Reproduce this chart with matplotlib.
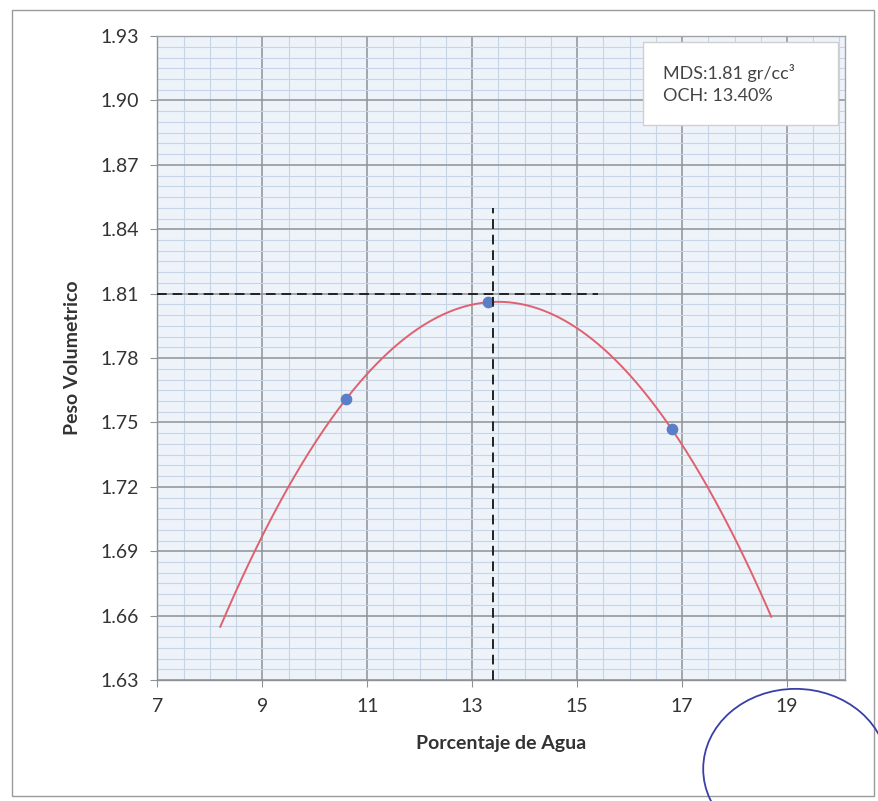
import matplotlib
matplotlib.use("Agg")
import matplotlib.pyplot as plt
import numpy as np
from matplotlib.patches import Ellipse, Rectangle

plt.rcParams['font.family'] = ['Lato', 'DejaVu Sans']

# Data
humedad = [10.6, 13.3, 16.8]          # Porcentaje de Agua
peso = [1.761, 1.806, 1.747]          # Peso Volumetrico
och = 13.40
mds = 1.81
x_ticks = [7, 9, 11, 13, 15, 17, 19]
y_ticks = [1.63, 1.66, 1.69, 1.72, 1.75, 1.78, 1.81, 1.84, 1.87, 1.90, 1.93]
trend_range = [8.2, 18.7]

fig = plt.figure(figsize=(8.79, 8.01), dpi=100)
ax = fig.add_axes([0.179, 0.151, 0.782, 0.804])
ax.set_facecolor('#eef3fa')

ax.set_xlim(7, 20.1)
ax.set_ylim(1.63, 1.93)
ax.set_xticks(x_ticks)
ax.set_yticks(y_ticks)
ax.set_yticklabels([f"{v:.2f}" for v in y_ticks])
ax.set_xticks(np.arange(7, 20.1, 0.5), minor=True)
ax.set_yticks(np.arange(1.63, 1.9301, 0.005), minor=True)
ax.grid(which='minor', color='#c6d4e6', linewidth=0.8)
ax.grid(which='major', color='#8e9296', linewidth=1.1)
ax.set_axisbelow(True)
ax.tick_params(which='minor', length=0)
ax.tick_params(which='major', length=5, color='#8e9296', labelsize=14,
               labelcolor='#333333', pad=8)
for s in ax.spines.values():
    s.set_color('#a0a4a8')
    s.set_linewidth(1.0)
ax.spines['left'].set_color('#8e9296')
ax.spines['bottom'].set_color('#8e9296')

# Trendline (2nd order polynomial)
coef = np.polyfit(humedad, peso, 2)
xs = np.linspace(trend_range[0], trend_range[1], 300)
ax.plot(xs, np.polyval(coef, xs), color='#e0606e', linewidth=1.4, zorder=3)

ax.scatter(humedad, peso, s=55, color='#5b7fc6', zorder=4)

# Dashed reference lines
ax.plot([7, 15.4], [mds, mds], color='#222222', linestyle=(0, (5, 3)), linewidth=1.4, zorder=5)
ax.plot([och, och], [1.63, 1.85], color='#222222', linestyle=(0, (5, 3)), linewidth=1.4, zorder=5)

ax.set_xlabel('Porcentaje de Agua', fontsize=14, fontweight='bold', color='#333333', labelpad=14)
ax.set_ylabel('Peso Volumetrico', fontsize=14, fontweight='bold', color='#333333', labelpad=14)

# Info box
ax.add_patch(Rectangle((0.706, 0.862), 0.284, 0.128, transform=ax.transAxes,
                       facecolor='white', edgecolor='#d0d0d0', linewidth=1.0, zorder=6))
ax.text(0.735, 0.926, 'MDS:1.81 gr/cc³\nOCH: 13.40%', transform=ax.transAxes,
        ha='left', va='center', fontsize=13, color='#444444', linespacing=1.45, zorder=7)

# Outer chart border
fig.add_artist(Rectangle((0.014, 0.006), 0.98, 0.982, transform=fig.transFigure,
                         fill=False, edgecolor='#9a9a9a', linewidth=1.0))
# Hand-drawn ink circle
fig.add_artist(Ellipse((0.905, 0.04), 0.21, 0.2, transform=fig.transFigure,
                       fill=False, edgecolor='#3a3fa8', linewidth=1.3))

fig.savefig('out.png', dpi=100)
